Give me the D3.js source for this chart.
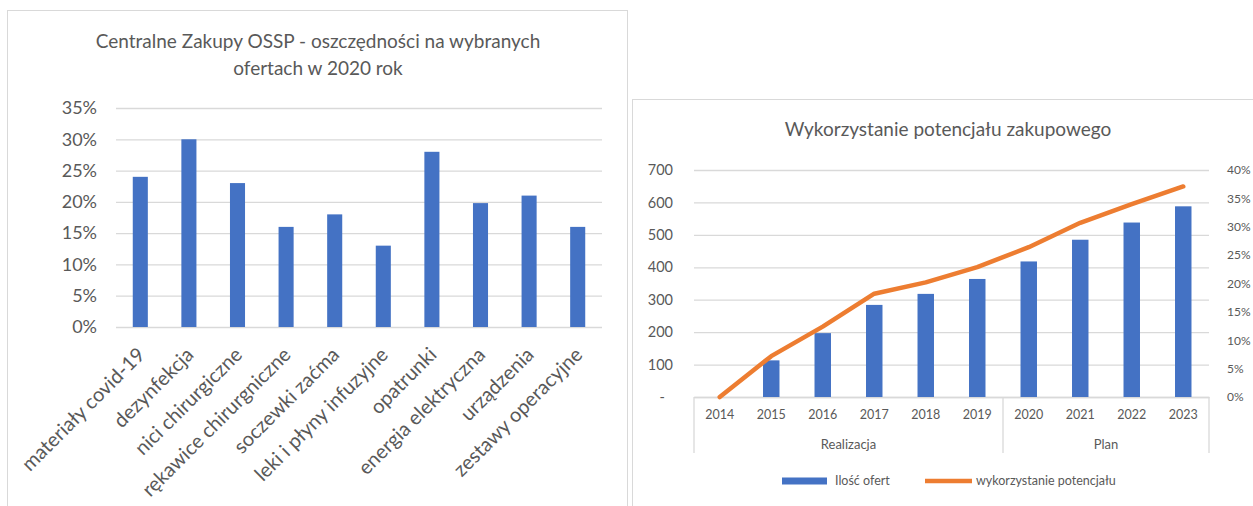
<!DOCTYPE html>
<html>
<head>
<meta charset="utf-8">
<script src="https://cdn.jsdelivr.net/npm/d3@7"></script>
<style>
  html, body { margin: 0; padding: 0; background: #fff; }
  svg { display: block; font-family: Lato, "Open Sans", sans-serif; }
</style>
</head>
<body>
<svg id="chart" width="1253" height="506"></svg>
<script>
// ---------- Data: left chart ----------
const savingsTitle = ["Centralne Zakupy OSSP - oszczędności na wybranych", "ofertach w 2020 rok"];
const savingsCategories = ["materiały covid-19", "dezynfekcja", "nici chirurgiczne", "rękawice chirurgniczne",
  "soczewki zaćma", "leki i płyny infuzyjne", "opatrunki", "energia elektryczna", "urządzenia", "zestawy operacyjne"];
const savingsValues = [0.24, 0.30, 0.23, 0.16, 0.18, 0.13, 0.28, 0.198, 0.21, 0.16];
const savingsTicks = [0, 0.05, 0.10, 0.15, 0.20, 0.25, 0.30, 0.35];

// ---------- Data: right chart ----------
const potentialTitle = "Wykorzystanie potencjału zakupowego";
const years = ["2014", "2015", "2016", "2017", "2018", "2019", "2020", "2021", "2022", "2023"];
const yearGroups = [{ label: "Realizacja", count: 6 }, { label: "Plan", count: 4 }];
const offerCounts = [0, 113, 197, 284, 318, 364, 418, 485, 538, 588];
const potentialUse = [0, 0.072, 0.124, 0.182, 0.202, 0.229, 0.264, 0.307, 0.340, 0.371];
const countTicks = [0, 100, 200, 300, 400, 500, 600, 700];
const pctTicks = [0, 0.05, 0.10, 0.15, 0.20, 0.25, 0.30, 0.35, 0.40];
const legendLabels = ["Ilość ofert", "wykorzystanie potencjału"];

const BLUE = "#4472C4", ORANGE = "#ED7D31", GRID = "#d9d9d9", TEXT = "#595959";

const svg = d3.select("#chart");
svg.append("rect").attr("width", 1253).attr("height", 506).attr("fill", "#fff");

// ================= LEFT CHART =================
const L = svg.append("g");
L.append("rect").attr("x", 7.5).attr("y", 10.5).attr("width", 620).attr("height", 520)
  .attr("fill", "#fff").attr("stroke", GRID);

L.selectAll("text.title").data(savingsTitle).join("text")
  .attr("class", "title")
  .attr("x", 318).attr("y", (d, i) => 48 + i * 27)
  .attr("text-anchor", "middle").attr("font-size", 19).attr("fill", TEXT)
  .text(d => d);

const x1 = d3.scaleBand().domain(savingsCategories).range([116, 602])
  .paddingInner(0.69).paddingOuter(0.345);
const y1 = d3.scaleLinear().domain([0, 0.35]).range([327, 108]);

const yAxis1 = L.append("g").attr("transform", "translate(116,0)")
  .call(d3.axisLeft(y1).tickValues(savingsTicks).tickFormat(d3.format(".0%"))
    .tickSize(-486).tickPadding(19));
yAxis1.select(".domain").remove();
yAxis1.selectAll(".tick line").attr("stroke", GRID).attr("stroke-width", 1.3);
yAxis1.selectAll(".tick text").attr("fill", TEXT).attr("font-size", 18)
  .attr("font-family", "Lato, sans-serif");

L.selectAll("rect.bar").data(savingsValues).join("rect")
  .attr("class", "bar")
  .attr("x", (d, i) => x1(savingsCategories[i]))
  .attr("width", x1.bandwidth())
  .attr("y", d => y1(d))
  .attr("height", d => y1(0) - y1(d))
  .attr("fill", BLUE);

L.selectAll("text.cat").data(savingsCategories).join("text")
  .attr("class", "cat")
  .attr("transform", d => `translate(${x1(d) + x1.bandwidth() / 2 + 1},${351}) rotate(-45)`)
  .attr("text-anchor", "end").attr("dy", "0.35em")
  .attr("font-size", 20).attr("fill", TEXT)
  .text(d => d);

// ================= RIGHT CHART =================
const R = svg.append("g");
R.append("rect").attr("x", 632.5).attr("y", 99.5).attr("width", 640).attr("height", 440)
  .attr("fill", "#fff").attr("stroke", GRID);

R.append("text").attr("x", 948).attr("y", 136)
  .attr("text-anchor", "middle").attr("font-size", 19).attr("fill", TEXT)
  .text(potentialTitle);

const x2 = d3.scaleBand().domain(years).range([694, 1209]).paddingInner(0.68).paddingOuter(0.34);
const yL = d3.scaleLinear().domain([0, 700]).range([397, 170]);
const yR = d3.scaleLinear().domain([0, 0.4]).range([397, 170]);

const yAxisL = R.append("g").attr("transform", "translate(694,0)")
  .call(d3.axisLeft(yL).tickValues(countTicks).tickFormat(d => d === 0 ? "-" : d)
    .tickSize(-515).tickPadding(21));
yAxisL.select(".domain").remove();
yAxisL.selectAll(".tick line").attr("stroke", GRID).attr("stroke-width", 1.3);
yAxisL.selectAll(".tick text").attr("fill", TEXT).attr("font-size", 14.5)
  .attr("font-family", "Lato, sans-serif");
yAxisL.selectAll(".tick").filter(d => d === 0).select("text").attr("dx", -8);

const yAxisR = R.append("g").attr("transform", "translate(1209,0)")
  .call(d3.axisRight(yR).tickValues(pctTicks).tickFormat(d3.format(".0%"))
    .tickSize(0).tickPadding(18));
yAxisR.select(".domain").remove();
yAxisR.selectAll(".tick text").attr("fill", TEXT).attr("font-size", 12)
  .attr("font-family", "Lato, sans-serif");

// category axis (multi-level)
const step = x2.step();
const x0 = x2.range()[0];
const xAxis2 = R.append("g").attr("transform", "translate(0,397)")
  .call(d3.axisBottom(x2).tickSize(0).tickPadding(13));
xAxis2.select(".domain").attr("stroke", GRID).attr("stroke-width", 1.3);
xAxis2.selectAll(".tick text").attr("fill", TEXT).attr("font-size", 12.5)
  .attr("font-family", "Lato, sans-serif");

let acc = 0;
const bounds = [0];
yearGroups.forEach(g => { acc += g.count; bounds.push(acc); });
R.selectAll("line.sep").data(bounds).join("line")
  .attr("class", "sep")
  .attr("x1", d => x0 + d * step).attr("x2", d => x0 + d * step)
  .attr("y1", 397).attr("y2", 453)
  .attr("stroke", GRID).attr("stroke-width", 1.3);
R.selectAll("text.grp").data(yearGroups).join("text")
  .attr("class", "grp")
  .attr("x", (g, i) => x0 + (bounds[i] + bounds[i + 1]) / 2 * step)
  .attr("y", 444).attr("dy", "0.35em")
  .attr("text-anchor", "middle").attr("font-size", 13).attr("fill", TEXT)
  .text(g => g.label);

// bars
R.selectAll("rect.bar").data(offerCounts).join("rect")
  .attr("class", "bar")
  .attr("x", (d, i) => x2(years[i]))
  .attr("width", x2.bandwidth())
  .attr("y", d => yL(d))
  .attr("height", d => yL(0) - yL(d))
  .attr("fill", BLUE);

// line
const line = d3.line()
  .x((d, i) => x2(years[i]) + x2.bandwidth() / 2)
  .y(d => yR(d))
  .curve(d3.curveLinear);
R.append("path").datum(potentialUse)
  .attr("d", line).attr("fill", "none")
  .attr("stroke", ORANGE).attr("stroke-width", 4.5)
  .attr("stroke-linecap", "round").attr("stroke-linejoin", "round");

// legend
const lg = R.append("g").attr("transform", "translate(0,481)");
lg.append("rect").attr("x", 782).attr("y", -3.5).attr("width", 45).attr("height", 7).attr("fill", BLUE);
lg.append("text").attr("x", 835).attr("dy", "0.35em").attr("font-size", 12.5).attr("fill", TEXT).text(legendLabels[0]);
lg.append("line").attr("x1", 925).attr("x2", 972).attr("stroke", ORANGE).attr("stroke-width", 4.5);
lg.append("text").attr("x", 976).attr("dy", "0.35em").attr("font-size", 12.5).attr("fill", TEXT).text(legendLabels[1]);
</script>
</body>
</html>
